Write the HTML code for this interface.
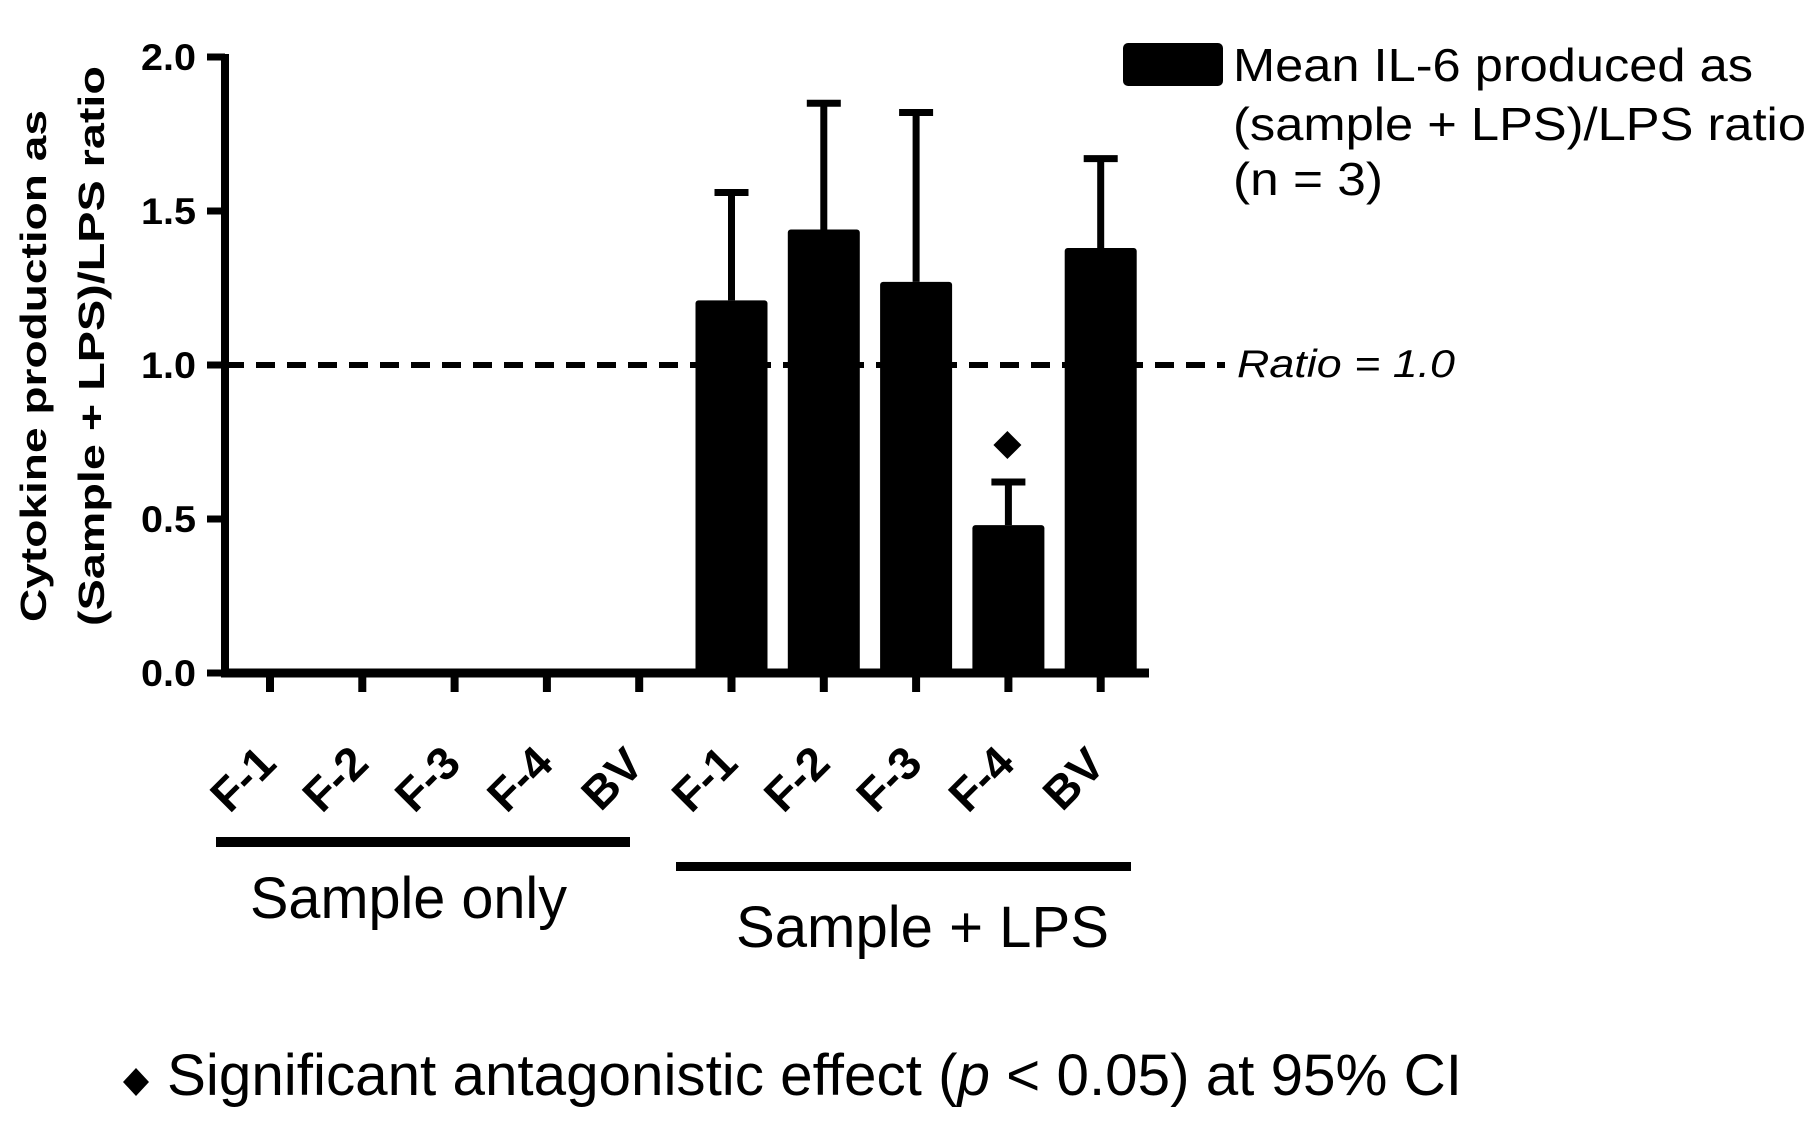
<!DOCTYPE html>
<html><head><meta charset="utf-8"><style>
html,body{margin:0;padding:0;background:#fff;}
svg{display:block;font-family:"Liberation Sans",Arial,sans-serif;}
</style></head><body>
<svg id="chart" width="1820" height="1144" viewBox="0 0 1820 1144">
  <g id="plot"></g>
  <g>
    <text transform="translate(46,366) rotate(-90)" text-anchor="middle" font-weight="bold" font-size="36" textLength="512" lengthAdjust="spacingAndGlyphs">Cytokine production as</text>
    <text transform="translate(104,346) rotate(-90)" text-anchor="middle" font-weight="bold" font-size="36" textLength="560" lengthAdjust="spacingAndGlyphs">(Sample + LPS)/LPS ratio</text>
  </g>
  <g>
    <rect x="1123" y="43" width="100" height="43" rx="5" fill="#000"/>
    <text x="1233" y="81" font-size="46" textLength="520" lengthAdjust="spacingAndGlyphs">Mean IL-6 produced as</text>
    <text x="1233" y="140" font-size="46" textLength="573" lengthAdjust="spacingAndGlyphs">(sample + LPS)/LPS ratio</text>
    <text x="1233" y="195" font-size="46" textLength="150" lengthAdjust="spacingAndGlyphs">(n = 3)</text>
  </g>
  <text x="1237" y="377" font-size="39" font-style="italic" textLength="218" lengthAdjust="spacingAndGlyphs">Ratio = 1.0</text>
  <rect x="216" y="837" width="414" height="10" fill="#000"/>
  <text x="250" y="918" font-size="58" textLength="317" lengthAdjust="spacingAndGlyphs">Sample only</text>
  <rect x="676" y="862" width="455" height="9" fill="#000"/>
  <text x="736" y="947" font-size="58" textLength="373" lengthAdjust="spacingAndGlyphs">Sample + LPS</text>
  <g>
    <polygon points="136,1068 149,1082 136,1096 123,1082" fill="#000"/>
    <text x="167" y="1095" font-size="58" textLength="1295" lengthAdjust="spacingAndGlyphs">Significant antagonistic effect (<tspan font-style="italic">p</tspan> &lt; 0.05) at 95% CI</text>
  </g>
</svg>
<script>
const categories = ["F-1","F-2","F-3","F-4","BV","F-1","F-2","F-3","F-4","BV"];
const means = [0,0,0,0,0,1.21,1.44,1.27,0.48,1.38];
const errUpper = [0,0,0,0,0,1.56,1.85,1.82,0.62,1.67];
const significant = [false,false,false,false,false,false,false,false,true,false];
const yTicks = [0.0,0.5,1.0,1.5,2.0];
const yTickLabels = ["0.0","0.5","1.0","1.5","2.0"];
const refValue = 1.0;

const NS = "http://www.w3.org/2000/svg";
const g = document.getElementById("plot");
const x0 = 225, xEnd = 1149, xFirst = 270, xStep = 92.3;
const yBase = 673, yTop = 57, yMax = 2.0;
const yS = v => yBase - (v / yMax) * (yBase - yTop);
const xS = i => xFirst + i * xStep;
function mk(tag, attrs){ const e=document.createElementNS(NS,tag); for(const k in attrs) e.setAttribute(k,attrs[k]); g.appendChild(e); return e; }

const dl = mk("line",{x1:x0,x2:1225,y1:yS(refValue),y2:yS(refValue),stroke:"#000","stroke-width":6,"stroke-dasharray":"19 12"});



const bw = 72;
means.forEach((v,i)=>{
  const cx = xS(i);
  if (v > 0) {
    const eb = mk("line",{x1:cx,x2:cx,y1:yS(v),y2:yS(errUpper[i]),stroke:"#000","stroke-width":7});
    
    
    const cap = mk("line",{x1:cx-17,x2:cx+17,y1:yS(errUpper[i]),y2:yS(errUpper[i]),stroke:"#000","stroke-width":7});
    
    
    const b = mk("rect",{x:cx-bw/2,y:yS(v),width:bw,height:yBase-yS(v),fill:"#000",rx:3});
    
    
  }
  if (significant[i]) {
    const yy = yS(errUpper[i]) - 37;
    const d = mk("polygon",{points:`${cx-1},${yy-14} ${cx+13},${yy} ${cx-1},${yy+14} ${cx-15},${yy}`,fill:"#000"});
    
    
  }
  const t = mk("line",{x1:cx,x2:cx,y1:yBase,y2:692,stroke:"#000","stroke-width":8});
  
  
  const lbl = mk("text",{transform:`translate(${cx-16},${790}) rotate(-45)`,"text-anchor":"middle","font-weight":"bold","font-size":46});
  lbl.textContent = categories[i];
  
  
});

const ya = mk("line",{x1:x0,x2:x0,y1:yTop-3,y2:yBase+4,stroke:"#000","stroke-width":8});


const xa = mk("line",{x1:x0-4,x2:xEnd,y1:yBase,y2:yBase,stroke:"#000","stroke-width":9});


yTicks.forEach((v,i)=>{
  const t = mk("line",{x1:207,x2:x0,y1:yS(v),y2:yS(v),stroke:"#000","stroke-width":7});
  
  
  const l = mk("text",{x:196,y:yS(v)+13,"text-anchor":"end","font-weight":"bold","font-size":37,textLength:55,lengthAdjust:"spacingAndGlyphs"});
  l.textContent = yTickLabels[i];
  
  
});
</script>
</body></html>
